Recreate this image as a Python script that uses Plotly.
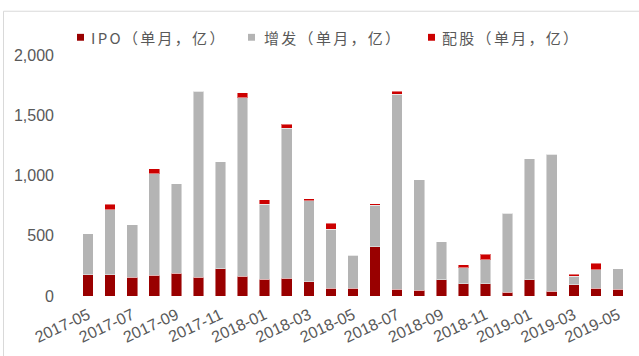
import plotly.graph_objects as go

# Monthly equity financing (100 million CNY), stacked: IPO / private placement / rights issue
months = [
    "2017-05", "2017-06", "2017-07", "2017-08", "2017-09", "2017-10", "2017-11",
    "2017-12", "2018-01", "2018-02", "2018-03", "2018-04", "2018-05", "2018-06",
    "2018-07", "2018-08", "2018-09", "2018-10", "2018-11", "2018-12", "2019-01",
    "2019-02", "2019-03", "2019-04", "2019-05",
]
ipo = [177, 177, 155, 171, 188, 155, 226, 163, 139, 147, 117, 65, 65,
       408, 57, 49, 133, 103, 103, 33, 136, 41, 92, 65, 57]
placement = [340, 539, 438, 844, 743, 1543, 890, 1481, 623, 1246, 675, 490, 275,
             346, 1619, 914, 316, 131, 199, 653, 1004, 1134, 74, 153, 169]
rights = [0, 46, 0, 41, 0, 0, 0, 41, 38, 33, 16, 49, 0,
          11, 25, 0, 0, 24, 46, 0, 0, 0, 14, 54, 0]

series_names = ["IPO（单月，亿）", "增发（单月，亿）", "配股（单月，亿）"]
series_colors = ["#990000", "#b4b4b4", "#cc0000"]

tick_labels = months[::2]
y_tickvals = [0, 500, 1000, 1500, 2000]
y_ticktext = ["0", "500", "1,000", "1,500", "2,000"]

W, H = 639, 356
M_L, M_R, M_T, M_B = 77, 10, 55, 56
PW, PH = W - M_L - M_R, H - M_T - M_B


def px_x(x):
    return (x - M_L) / PW


def px_y(y):
    return (H - M_B - y) / PH


TEXT = "#595959"

fig = go.Figure()
for name, vals, col in zip(series_names, [ipo, placement, rights], series_colors):
    fig.add_bar(
        x=months, y=vals, name=name, showlegend=False,
        marker=dict(color=col, line=dict(color="rgba(255,255,255,0.45)", width=1)),
    )

# Legend drawn as small swatches plus labels along the top
legend_swatch_x = [77, 248, 428]
legend_text_x = [89, 262, 440]
legend_y = 37
sw = 7
shapes = []
annotations = []
for name, col, sx, tx in zip(series_names, series_colors, legend_swatch_x, legend_text_x):
    shapes.append(dict(
        type="rect", xref="paper", yref="paper",
        x0=px_x(sx), x1=px_x(sx + sw), y0=px_y(legend_y + sw / 2), y1=px_y(legend_y - sw / 2),
        fillcolor=col, line=dict(width=0),
    ))
    annotations.append(dict(
        xref="paper", yref="paper", x=px_x(tx), y=px_y(legend_y),
        xanchor="left", yanchor="middle", showarrow=False,
        text=f'<span style="letter-spacing:2.3px">{name}</span>',
        font=dict(family="Noto Sans CJK SC", size=15, color=TEXT),
    ))

# Light frame around the whole chart
shapes.append(dict(
    type="rect", xref="paper", yref="paper",
    x0=px_x(3.5), x1=px_x(W + 20), y0=px_y(H + 20), y1=px_y(10.5),
    line=dict(color="#d9d9d9", width=1), fillcolor="rgba(0,0,0,0)", layer="below",
))

fig.update_layout(
    width=W, height=H,
    margin=dict(l=M_L, r=M_R, t=M_T, b=M_B),
    barmode="stack", bargap=0.52,
    plot_bgcolor="white", paper_bgcolor="white",
    font=dict(family="Liberation Sans, Arial", size=16, color=TEXT),
    shapes=shapes, annotations=annotations,
    xaxis=dict(
        type="category", tickmode="array", tickvals=tick_labels, ticktext=tick_labels,
        tickangle=-25, showgrid=False, showline=False, zeroline=False,
        ticks="", ticklabelstandoff=6,
        tickfont=dict(size=16, color=TEXT),
    ),
    yaxis=dict(
        range=[0, 2000], tickmode="array", tickvals=y_tickvals, ticktext=y_ticktext,
        showgrid=False, showline=False, zeroline=False, ticks="",
        ticklabelstandoff=22, tickfont=dict(size=16, color=TEXT),
    ),
)

fig.write_html("out.html")
